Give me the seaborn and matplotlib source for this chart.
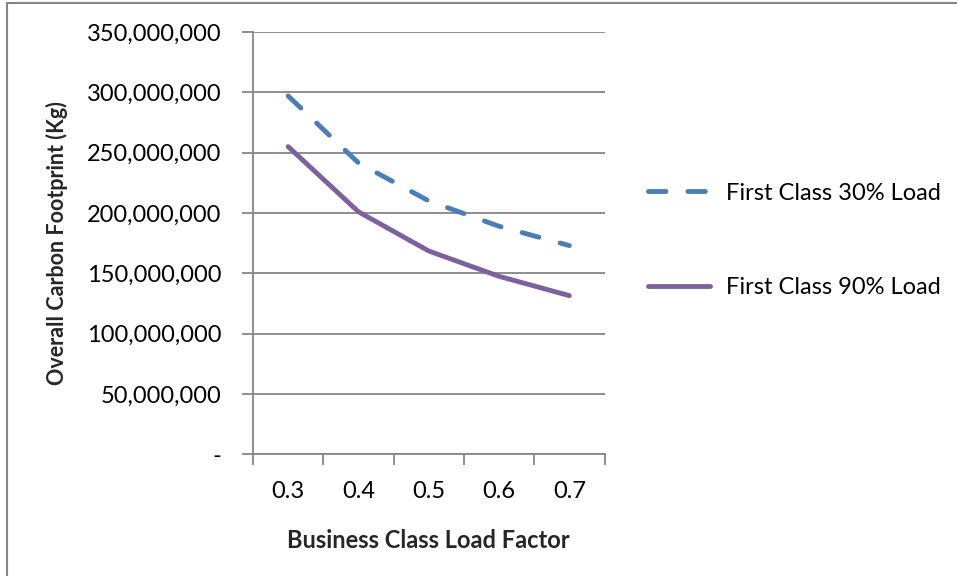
import matplotlib
matplotlib.use("Agg")
import matplotlib.pyplot as plt
from matplotlib.ticker import FuncFormatter, FixedLocator, NullFormatter
import seaborn as sns
import pandas as pd

# Business class load factor categories
load_factors = ["0.3", "0.4", "0.5", "0.6", "0.7"]
# Overall carbon footprint (kg) for each first-class load scenario
first_30 = [297_000_000, 241_500_000, 210_000_000, 189_000_000, 173_000_000]
first_90 = [255_000_000, 201_000_000, 168_500_000, 147_500_000, 131_500_000]
series_names = ["First Class 30% Load", "First Class 90% Load"]

df = pd.DataFrame({
    "factor": load_factors * 2,
    "footprint": first_30 + first_90,
    "series": [series_names[0]] * len(load_factors) + [series_names[1]] * len(load_factors),
})

sns.set_theme(style="white")
plt.rcParams["font.family"] = ["Lato", "DejaVu Sans"]

fig = plt.figure(figsize=(9.57, 5.76), dpi=100)
ax = fig.add_axes([253 / 957, 1 - 454.3 / 576, 351.5 / 957, 422.3 / 576])

palette = {series_names[0]: "#4A7EBB", series_names[1]: "#7D60A0"}
dashes = {series_names[0]: (3.6, 4.5), series_names[1]: ""}
sns.lineplot(data=df, x="factor", y="footprint", hue="series", style="series",
             palette=palette, dashes=dashes, linewidth=3.5, legend=False, ax=ax,
             sort=False)
for ln in ax.lines:
    ln.set_dash_capstyle("round")
    ln.set_solid_capstyle("round")
    ln.set_solid_joinstyle("round")

grid_col = "#868686"
tick_size = 17
ax.set_ylim(0, 350_000_000)
ax.set_xlim(-0.5, len(load_factors) - 0.5)
ax.set_yticks(range(0, 350_000_001, 50_000_000))
ax.yaxis.set_major_formatter(FuncFormatter(lambda v, p: "-" if v == 0 else f"{int(v):,}"))
ax.yaxis.grid(True, color=grid_col, linewidth=1.3)
ax.set_axisbelow(True)

# category boundaries carry the tick marks, labels sit at category centres
ax.xaxis.set_major_locator(FixedLocator([i - 0.5 for i in range(len(load_factors) + 1)]))
ax.xaxis.set_major_formatter(NullFormatter())
ax.xaxis.set_minor_locator(FixedLocator(list(range(len(load_factors)))))
ax.set_xticklabels(load_factors, minor=True)
ax.tick_params(axis="x", which="major", direction="out", length=8, width=1.3, color=grid_col, bottom=True)
ax.tick_params(axis="x", which="minor", length=0, pad=19, labelsize=tick_size, labelcolor="black")
ax.tick_params(axis="y", direction="out", length=8, width=1.3, color=grid_col, left=True,
               pad=15, labelsize=tick_size, labelcolor="black")

for side in ("top", "right"):
    ax.spines[side].set_visible(False)
for side in ("left", "bottom"):
    ax.spines[side].set_color(grid_col)
    ax.spines[side].set_linewidth(1.3)

ax.set_xlabel("Business Class Load Factor", fontsize=17, fontweight="bold")
ax.set_ylabel("Overall Carbon Footprint (Kg)", fontsize=15.5, fontweight="bold")
ax.xaxis.set_label_coords(0.5, (454.3 - 541) / 422.3)
ax.xaxis.label.set_va("center")
ax.yaxis.set_label_coords((57 - 253) / 351.5, 0.5)
ax.yaxis.label.set_va("center")

leg = ax.legend(ax.lines[:2], series_names, loc="center left",
                bbox_to_anchor=(1.0, 0.507), frameon=False, fontsize=tick_size,
                handlelength=2.63, handletextpad=0.68, labelspacing=3.1, borderaxespad=1.44)
for txt in leg.get_texts():
    txt.set_color("black")

# outer chart border
fig.add_artist(plt.Line2D([6.5 / 957, 6.5 / 957], [0, 1 - 2.5 / 576], transform=fig.transFigure,
                          color=grid_col, linewidth=1.5))
fig.add_artist(plt.Line2D([6.5 / 957, 1], [1 - 2.5 / 576, 1 - 2.5 / 576], transform=fig.transFigure,
                          color=grid_col, linewidth=1.5))

fig.savefig("out.png", dpi=100)
